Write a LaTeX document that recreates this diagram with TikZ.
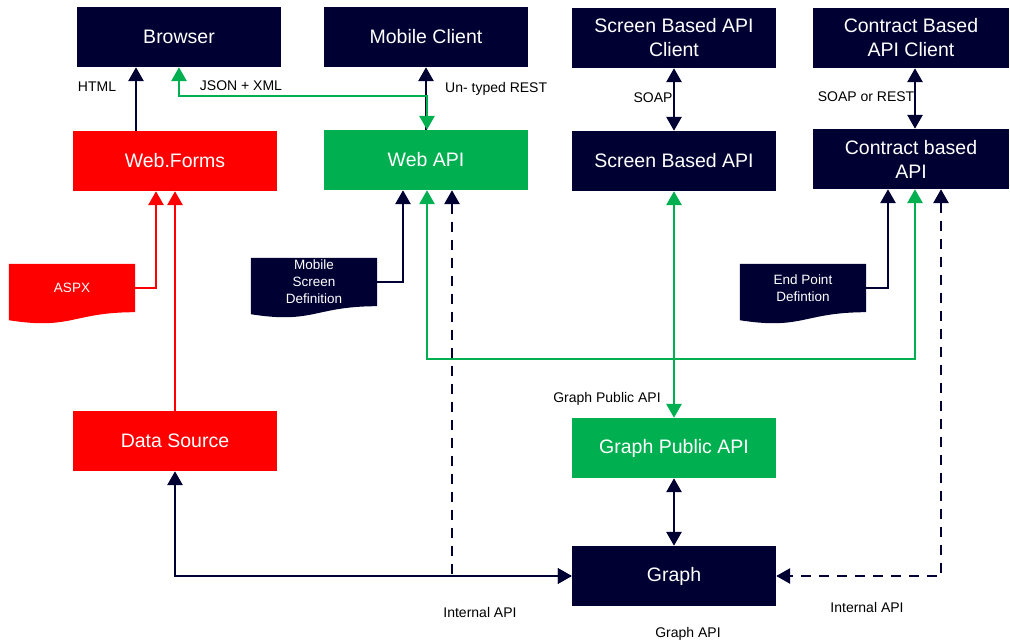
\documentclass[tikz,border=0pt]{standalone}
\usepackage{fontspec}
\setmainfont{Liberation Sans}
\usetikzlibrary{arrows.meta,calc}
\definecolor{navy}{HTML}{000033}
\definecolor{rred}{HTML}{FF0000}
\definecolor{ggreen}{HTML}{00B050}
\pgfdeclarelayer{background}
\pgfsetlayers{background,main}
\newcommand\docshape[2]{\fill[#2] (#1.north west) -- (#1.north east) -- (#1.south east) .. controls ([xshift=-63pt]#1.south east) and ([yshift=-18pt]#1.south) .. ([yshift=-8pt]#1.south west) -- cycle;}
\begin{document}
\begin{tikzpicture}[x=1pt,y=-1pt,
  box/.style={minimum width=204pt, minimum height=60pt, inner sep=0pt, text=white, font=\fontsize{19.5}{24}\selectfont, align=center},
  navybox/.style={box, fill=navy},
  redbox/.style={box, fill=rred},
  greenbox/.style={box, fill=ggreen},
  doc/.style={minimum width=126pt, minimum height=48pt, inner sep=0pt, text=white, font=\fontsize{13.5}{17}\selectfont, align=center},
  lab/.style={font=\fontsize{14}{16}\selectfont, text=black, inner sep=0pt},
  bigtri/.tip={Triangle[width=15pt,length=14pt]},
  con/.style={line width=2.8pt},
  ncon/.style={con, draw=navy},
  rcon/.style={con, draw=rred},
  gcon/.style={con, draw=ggreen},
  dcon/.style={con, draw=navy, dash pattern=on 10pt off 8pt}
]
\useasboundingbox (0,0) rectangle (1010,642);

% boxes
\node[navybox] (browser) at (179,37) {Browser};
\node[navybox] (mobile) at (426,37) {Mobile Client};
\node[navybox] (sbclient) at (674,38) {Screen Based API\\Client};
\node[navybox, minimum width=196pt] (cbclient) at (911,38) {Contract Based\\API Client};
\node[redbox] (webforms) at (175,161) {Web.Forms};
\node[greenbox] (webapi) at (426,160) {Web API};
\node[navybox] (sbapi) at (674,161) {Screen Based API};
\node[navybox, minimum width=196pt] (cbapi) at (911,159) {Contract based\\API};
\node[redbox] (datasource) at (175,441) {Data Source};
\node[greenbox] (gpa) at (674,448) {Graph Public API};
\node[navybox] (graph) at (674,576) {Graph};

% documents
\node[doc] (aspx) at (72,288) {ASPX};
\node[doc] (msd) at (314,282) {Mobile\\Screen\\Definition};
\node[doc] (epd) at (803,288) {End Point\\Defintion};
\begin{pgfonlayer}{background}
\docshape{aspx}{rred}
\docshape{msd}{navy}
\docshape{epd}{navy}
\end{pgfonlayer}

% helper coordinates
\coordinate (jtop) at (300,96);
\coordinate (jmid) at (670,359);

% top connectors
\draw[ncon,-bigtri] ([xshift=-39pt]webforms.north) -- ([xshift=-39pt]webforms.north |- browser.south);
\draw[ncon,-bigtri] (webapi.north) -- (mobile.south);
\draw[gcon,bigtri-bigtri] (browser.south) |- (jtop) -| ([xshift=1pt]webapi.north);
\draw[ncon,bigtri-bigtri] (sbclient.south) -- (sbclient.south |- sbapi.north);
\draw[ncon,bigtri-bigtri] ([xshift=4pt]cbclient.south) -- ([xshift=4pt]cbclient.south |- cbapi.north);

% red connectors
\draw[rcon,-bigtri] (aspx.east) -| ([xshift=-19pt]webforms.south);
\draw[rcon,-bigtri] (datasource.north) -- (webforms.south);

% documents to APIs
\draw[ncon,-bigtri] (msd.east) -| ([xshift=-23pt]webapi.south);
\draw[ncon,-bigtri] (epd.east) -| ([xshift=-23pt]cbapi.south);

% green middle connectors
\draw[gcon,bigtri-bigtri] ([xshift=1pt]webapi.south) |- (jmid) -| ([xshift=4pt]cbapi.south);
\draw[gcon,bigtri-bigtri] (sbapi.south) -- (sbapi.south |- gpa.north);

% graph connectors
\draw[ncon,bigtri-bigtri] (gpa.south) -- (gpa.south |- graph.north);
\draw[ncon,bigtri-bigtri] (datasource.south) |- (graph.west);
\draw[dcon,bigtri-bigtri] ([xshift=26pt]webapi.south) |- (graph.west);
\draw[dcon,bigtri-bigtri] ([xshift=30pt]cbapi.south) |- (graph.east);

% labels
\node[lab] (lhtml) at (97,87) {HTML};
\node[lab] (ljson) at (241,86) {JSON + XML};
\node[lab, anchor=west] (lrest) at (445,89) {Un- typed REST};
\node[lab] (lsoap) at (653,98) {SOAP};
\node[lab] (lsoaprest) at (866,97) {SOAP or REST};
\node[lab] (lgpa) at (607,399) {Graph Public API};
\node[lab] (lint1) at (480,612) {Internal API};
\node[lab] (lint2) at (867,607) {Internal API};
\node[lab] (lgapi) at (688,634) {Graph API};
\end{tikzpicture}
\end{document}
